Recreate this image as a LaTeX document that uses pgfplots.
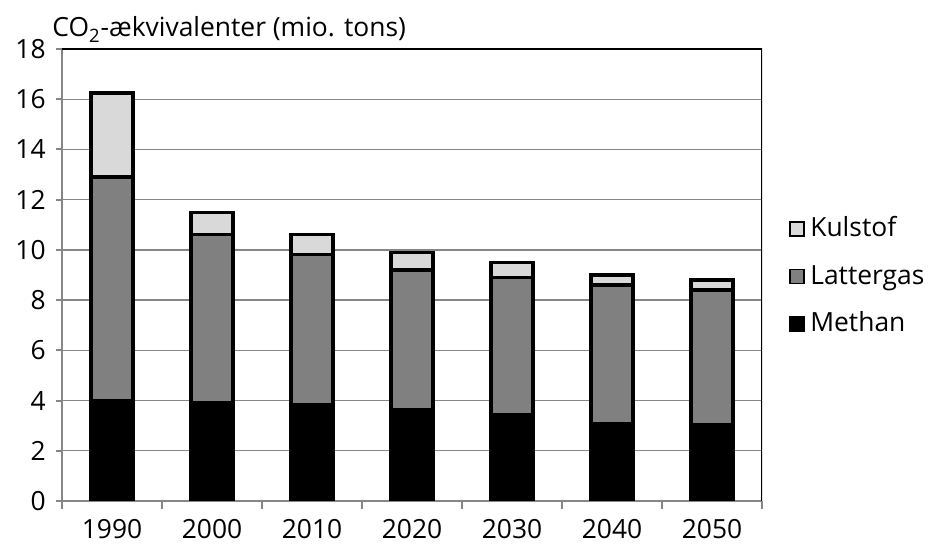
\documentclass[border=0pt]{standalone}
\usepackage{fontspec}
\setmainfont{Open Sans}
\usepackage{pgfplots}
\pgfplotsset{compat=1.18}
\definecolor{lgray}{RGB}{217,217,217}
\definecolor{mgray}{RGB}{128,128,128}
\definecolor{axgray}{RGB}{134,134,134}

\begin{document}
\fontsize{13.2}{15}\selectfont
\begin{tikzpicture}
\useasboundingbox (-31pt,-21.5pt) rectangle (433pt,250.5pt);
\begin{axis}[
  scale only axis, width=350pt, height=226pt,
  at={(0,0)}, anchor=south west,
  ybar stacked, bar width=21pt,
  xmin=-0.5, xmax=6.5, ymin=0, ymax=18,
  xtick={0,...,6},
  xticklabels={1990,2000,2010,2020,2030,2040,2050},
  minor xtick={-0.5,0.5,...,6.5},
  ytick={0,2,...,18},
  ymajorgrids, grid style={axgray, line width=0.7pt},
  axis x line*=bottom, axis y line*=left,
  axis line style={axgray, line width=1pt, -},
  tick align=outside,
  major tick length=3pt, minor tick length=4pt,
  major x tick style={draw=none},
  minor x tick style={axgray, line width=1pt},
  ytick style={axgray, line width=1pt},
  /pgf/number format/assume math mode=true,
  tick label style={font=\fontsize{13.2}{15}\selectfont, black},
  yticklabel style={inner sep=0pt, xshift=-5pt},
  xticklabel style={inner sep=0pt, yshift=-6pt},
  reverse legend,
  legend cell align=left,
  legend image code/.code={
    \draw[#1, line width=0.9pt] (0pt,-3pt) rectangle (7pt,4pt);
    \path[draw=none, fill=none] (0pt,0pt) rectangle (10pt,0.1pt);},
  legend style={draw=none, fill=none, inner sep=0pt,
    at={(1.0386,0.4945)}, anchor=west,
    font=\fontsize{13.2}{15}\selectfont,
    nodes={inner sep=0pt, text height=10pt, text depth=3pt},
    row sep=10.75pt},
]
\addplot[fill=black, draw=black, line width=1.6pt] coordinates {
  (0,4.0) (1,3.9) (2,3.85) (3,3.65) (4,3.45) (5,3.1) (6,3.05)
};
\addplot[fill=mgray, draw=black, line width=1.6pt] coordinates {
  (0,8.9) (1,6.7) (2,5.95) (3,5.55) (4,5.45) (5,5.5) (6,5.35)
};
\addplot[fill=lgray, draw=black, line width=1.6pt] coordinates {
  (0,3.35) (1,0.9) (2,0.8) (3,0.7) (4,0.6) (5,0.4) (6,0.4)
};
\legend{Methan, Lattergas, Kulstof}
\draw[black, line width=1.2pt] (rel axis cs:0,1) -- (rel axis cs:1,1) -- (rel axis cs:1,0);
\end{axis}
\node[anchor=base west, inner sep=0pt] at (-5pt,232pt) {CO\textsubscript{2}-ækvivalenter (mio. tons)};
\end{tikzpicture}
\end{document}
